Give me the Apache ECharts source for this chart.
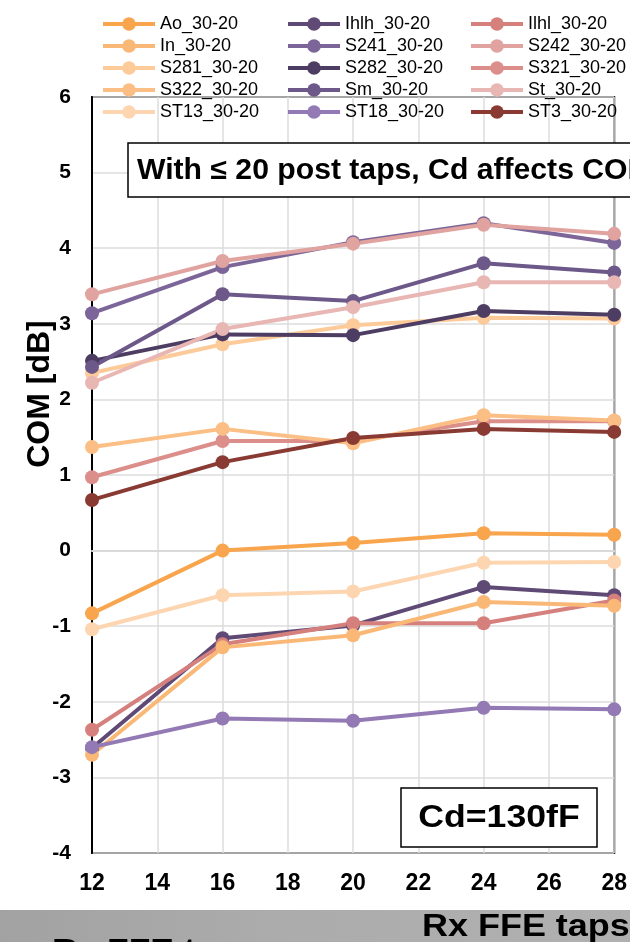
<!DOCTYPE html>
<html>
<head>
<meta charset="utf-8">
<script src="https://cdn.jsdelivr.net/npm/echarts@6/dist/echarts.min.js"></script>
<style>
  html, body { margin: 0; padding: 0; background: #fff; }
  #chart { width: 630px; height: 942px; }
</style>
</head>
<body>
<div id="chart"></div>
<script>
// x = Rx FFE taps
const taps = [12, 16, 20, 24, 28];

// COM [dB] per curve
const Ao = [-0.83, 0.0, 0.10, 0.23, 0.21];
const Ihlh = [-2.61, -1.16, -0.99, -0.48, -0.59];
const Ilhl = [-2.37, -1.24, -0.96, -0.96, -0.66];
const In = [-2.70, -1.28, -1.12, -0.68, -0.73];
const S241 = [3.14, 3.75, 4.08, 4.33, 4.07];
const S242 = [3.39, 3.83, 4.06, 4.31, 4.19];
const S281 = [2.35, 2.73, 2.98, 3.08, 3.07];
const S282 = [2.51, 2.86, 2.85, 3.17, 3.12];
const S321 = [0.97, 1.45, 1.45, 1.71, 1.71];
const S322 = [1.37, 1.61, 1.42, 1.79, 1.72];
const Sm = [2.43, 3.39, 3.30, 3.80, 3.68];
const St = [2.22, 2.93, 3.22, 3.55, 3.55];
const ST13 = [-1.04, -0.59, -0.54, -0.16, -0.15];
const ST18 = [-2.60, -2.22, -2.25, -2.08, -2.10];
const ST3 = [0.67, 1.17, 1.49, 1.61, 1.57];

const names = ['Ao_30-20', 'Ihlh_30-20', 'Ilhl_30-20', 'In_30-20', 'S241_30-20', 'S242_30-20',
  'S281_30-20', 'S282_30-20', 'S321_30-20', 'S322_30-20', 'Sm_30-20', 'St_30-20',
  'ST13_30-20', 'ST18_30-20', 'ST3_30-20'];
const values = [Ao, Ihlh, Ilhl, In, S241, S242, S281, S282, S321, S322, Sm, St, ST13, ST18, ST3];
const colors = ['#f8a54e', '#5e4a74', '#d5807d', '#fab877', '#7c6598', '#e0a39f',
  '#fdcb9a', '#4e3d62', '#dc8e8a', '#fbbe84', '#6c5889', '#e8b6b3',
  '#fdd6b1', '#937ab4', '#893a33'];

const font = 'Liberation Sans, Arial, sans-serif';

// legend en 3 colonnes
function legendCol(left, idx) {
  return {
    orient: 'vertical',
    left: left,
    top: 10,
    itemWidth: 52,
    itemHeight: 17,
    itemGap: 4,
    lineStyle: { width: 4 },
    data: idx.map(i => names[i]),
    textStyle: { fontFamily: font, fontSize: 18, color: '#000', lineHeight: 18 }
  };
}

const chart = echarts.init(document.getElementById('chart'));

chart.setOption({
  animation: false,
  color: colors,
  legend: [
    legendCol(96, [0, 3, 6, 9, 12]),
    legendCol(281, [1, 4, 7, 10, 13]),
    legendCol(464, [2, 5, 8, 11, 14])
  ],
  grid: {
    left: 92, right: 14, top: 97, bottom: 89,
    show: true, borderColor: '#000', borderWidth: 2, backgroundColor: 'transparent'
  },
  xAxis: {
    type: 'value', min: 12, max: 28, interval: 2,
    axisLine: { lineStyle: { color: '#d9d9d9', width: 2 } },
    axisTick: { show: false },
    axisLabel: { fontFamily: font, fontWeight: 'bold', fontSize: 23, color: '#000', margin: 19 },
    splitLine: { lineStyle: { color: '#dcdcdc', width: 1.5 } }
  },
  yAxis: {
    type: 'value', min: -4, max: 6, interval: 1,
    axisLine: { show: true, lineStyle: { color: '#000', width: 2 } },
    axisTick: { show: false },
    axisLabel: { fontFamily: font, fontWeight: 'bold', fontSize: 21, color: '#000', margin: 21 },
    splitLine: { lineStyle: { color: '#dcdcdc', width: 1.5 } }
  },
  graphic: [
    {
      type: 'text', x: 40, y: 394, rotation: Math.PI / 2,
      style: { text: 'COM [dB]', fontFamily: font, fontWeight: 'bold', fontSize: 32, fill: '#000', align: 'center', verticalAlign: 'middle' }
    },
    {
      type: 'rect', shape: { x: 128, y: 143, width: 540, height: 54 },
      style: { fill: '#fff', stroke: '#000', lineWidth: 1.5 }, z: 10
    },
    {
      type: 'text', x: 137, y: 171, scaleX: 1.04, z: 11,
      style: { text: 'With ≤ 20 post taps, Cd affects COM', fontFamily: font, fontWeight: 'bold', fontSize: 29, fill: '#000', verticalAlign: 'middle' }
    },
    {
      type: 'rect', shape: { x: 401, y: 788, width: 196, height: 59 },
      style: { fill: '#fff', stroke: '#000', lineWidth: 1.5 }, z: 10
    },
    {
      type: 'text', x: 499, y: 818, scaleX: 1.15, z: 11,
      style: { text: 'Cd=130fF', fontFamily: font, fontWeight: 'bold', fontSize: 31, fill: '#000', align: 'center', verticalAlign: 'middle' }
    },
    {
      type: 'rect', shape: { x: 0, y: 910, width: 630, height: 32 },
      style: { fill: new echarts.graphic.LinearGradient(0, 0, 1, 0, [
        { offset: 0, color: '#a2a2a2' }, { offset: 0.45, color: '#acacac' }, { offset: 1, color: '#b0b0b0' }
      ]) }
    },
    {
      type: 'text', x: 422, y: 927, scaleX: 1.16,
      style: { text: 'Rx FFE taps', fontFamily: font, fontWeight: 'bold', fontSize: 31, fill: '#000', verticalAlign: 'middle' }
    },
    {
      type: 'text', x: 52, y: 936, scaleX: 1.18,
      style: { text: 'Rx FFE taps', fontFamily: font, fontWeight: 'bold', fontSize: 30, fill: '#000', verticalAlign: 'top' }
    }
  ],
  series: names.map((n, i) => ({
    name: n,
    type: 'line',
    data: taps.map((t, j) => [t, values[i][j]]),
    symbol: 'circle',
    symbolSize: 14,
    lineStyle: { width: 4 },
    clip: false
  }))
});
</script>
</body>
</html>
